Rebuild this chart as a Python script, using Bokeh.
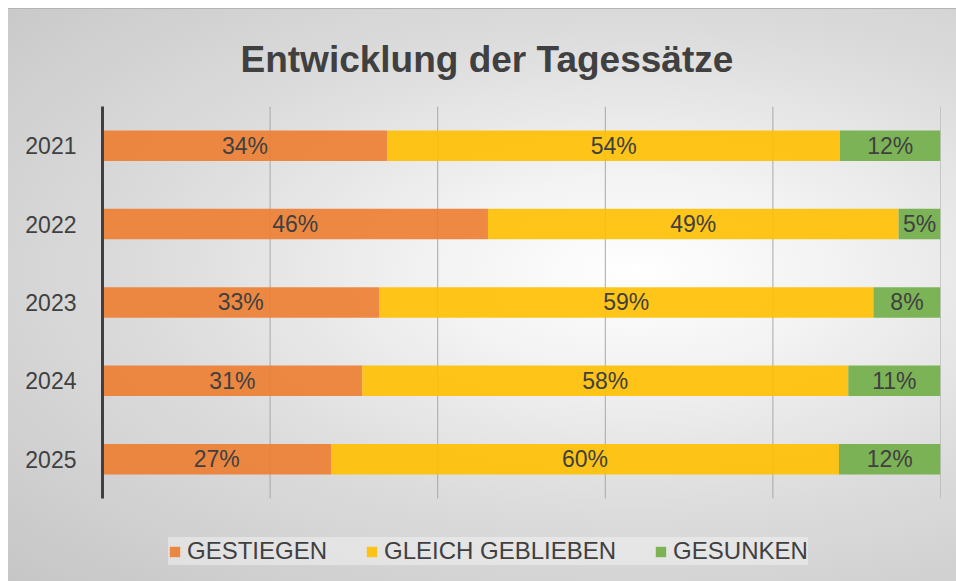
from bokeh.plotting import figure
from bokeh.models import ColumnDataSource, Legend, LegendItem, FixedTicker, Range1d
from bokeh.core.properties import value
from bokeh.embed import file_html
from bokeh.resources import INLINE

# ---- data ----
years = ["2021", "2022", "2023", "2024", "2025"]
gestiegen = [34, 46, 33, 31, 27]
gleich = [54, 49, 59, 58, 60]
gesunken = [12, 5, 8, 11, 12]
series_names = ["GESTIEGEN", "GLEICH GEBLIEBEN", "GESUNKEN"]
x_ticks = [0, 20, 40, 60, 80, 100]

colors = ["#ED7D31", "#FFC000", "#70AD47"]
FONT = "Liberation Sans"
TXT = "#404040"

series = [gestiegen, gleich, gesunken]
keys = ["s0", "s1", "s2"]
pos = list(range(len(years)))          # category slots, first year on top
totals = [a + b + c for a, b, c in zip(*series)]
data = {"y": pos}
for k, s in zip(keys, series):
    data[k] = [v / t * 100 for v, t in zip(s, totals)]
source = ColumnDataSource(data)

# category area spans -0.5 .. n-0.5; extra room below holds the legend
cat_lo, cat_hi = -0.5, len(years) - 0.5
p = figure(
    width=948, height=573,
    y_range=Range1d(start=cat_hi + 1.06, end=cat_lo), x_range=Range1d(0, 100),
    output_backend="svg", toolbar_location=None,
    min_border_left=94, min_border_right=16, min_border_top=98, min_border_bottom=0,
)
p.styles = {
    "margin-left": "8px",
    "margin-top": "8px",
    "background": "radial-gradient(ellipse at 66% 46%, #ffffff 0%, #f3f3f3 22%, #dcdcdc 55%, #c6c6c6 100%)",
    "box-shadow": "inset 0 1px 0 #b4b4b4",
}
p.background_fill_alpha = 0
p.border_fill_alpha = 0
p.outline_line_color = None
p.xgrid.visible = False
p.ygrid.visible = False
p.xaxis.visible = False

# vertical grid lines at the 20% steps, limited to the bar area
p.segment(x0=x_ticks, x1=x_ticks, y0=[cat_lo] * len(x_ticks), y1=[cat_hi] * len(x_ticks),
          line_color="#a8a8a8", line_width=1)

renderers = p.hbar_stack(keys, y="y", height=0.39, color=colors, fill_alpha=0.9,
                         line_color=None, source=source)

# value labels
for i, (k, s) in enumerate(zip(keys, series)):
    xs = []
    for j in range(len(years)):
        left = sum(data[keys[m]][j] for m in range(i))
        xs.append(left + data[k][j] / 2)
    lsrc = ColumnDataSource(dict(x=xs, y=pos, t=[f"{v}%" for v in s]))
    p.text(x="x", y="y", text="t", source=lsrc, text_align="center", text_baseline="middle",
           text_font=value(FONT), text_font_size="23px", text_color=TXT)

# y axis with year labels
p.yaxis.ticker = FixedTicker(ticks=pos)
p.yaxis.major_label_overrides = {i: y for i, y in zip(pos, years)}
p.yaxis.bounds = (cat_lo, cat_hi)
p.yaxis.axis_line_color = TXT
p.yaxis.axis_line_width = 3
p.yaxis.major_tick_line_color = None
p.yaxis.minor_tick_line_color = None
p.yaxis.major_label_text_font = FONT
p.yaxis.major_label_text_font_size = "23px"
p.yaxis.major_label_text_color = TXT
p.yaxis.major_label_standoff = 20

# title
p.title.text = "Entwicklung der Tagessätze"
p.title.text_font = FONT
p.title.text_font_size = "37px"
p.title.text_font_style = "bold"
p.title.text_color = TXT
p.title.align = "left"
p.title.offset = 138
p.title.standoff = 54
p.title.text_line_height = 0.8

legend = Legend(
    items=[LegendItem(label=n, renderers=[r]) for n, r in zip(series_names, renderers)],
    orientation="horizontal", location=(66, 16), margin=0,
    label_text_font=FONT, label_text_font_size="24px", label_text_color=TXT,
    glyph_width=13, glyph_height=13, label_standoff=6, spacing=38, padding=9,
    background_fill_color="#f4f4f4", background_fill_alpha=0.5, border_line_color=None,
)
p.add_layout(legend)

open("out.html", "w").write(file_html(p, INLINE))
